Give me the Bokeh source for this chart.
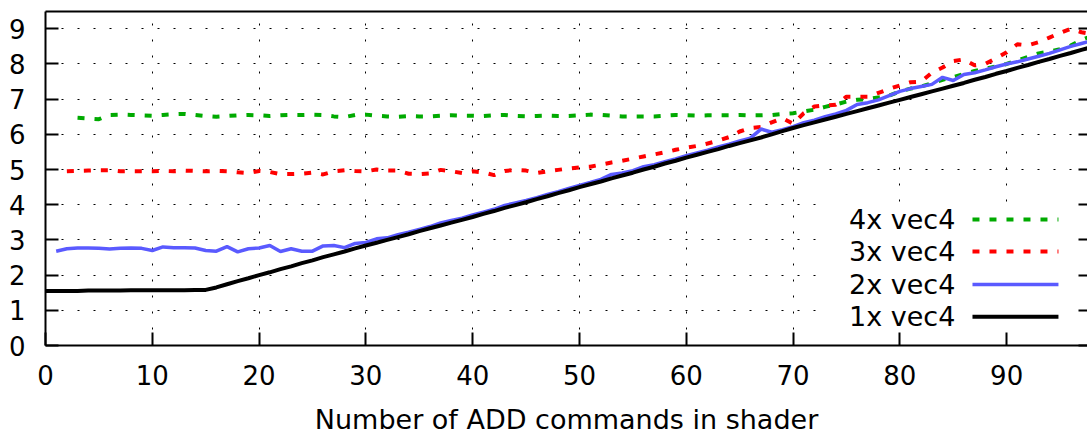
from bokeh.plotting import figure
from bokeh.models import LinearAxis, Range1d, BoxAnnotation, Label, Arrow, FixedTicker
from bokeh.embed import file_html
from bokeh.resources import INLINE

FONT = "DejaVu Sans"

# Number of ADD commands in the shader (x) against measured time (y)
x_1x = list(range(0, 99))
y_1x = [1.55, 1.55, 1.55, 1.55, 1.56, 1.56, 1.56, 1.56, 1.57, 1.57,
        1.57, 1.57, 1.57, 1.57, 1.58, 1.58, 1.65, 1.74, 1.83, 1.91,
        2.00, 2.08, 2.17, 2.25, 2.34, 2.42, 2.51, 2.59, 2.67, 2.76,
        2.84, 2.92, 3.00, 3.08, 3.16, 3.25, 3.33, 3.41, 3.49, 3.57,
        3.65, 3.74, 3.82, 3.91, 3.99, 4.07, 4.16, 4.24, 4.33, 4.41,
        4.50, 4.58, 4.66, 4.75, 4.83, 4.91, 5.00, 5.08, 5.17, 5.25,
        5.34, 5.42, 5.50, 5.58, 5.67, 5.75, 5.83, 5.91, 6.00, 6.09,
        6.18, 6.26, 6.34, 6.42, 6.50, 6.58, 6.66, 6.74, 6.82, 6.90,
        6.98, 7.06, 7.14, 7.22, 7.30, 7.38, 7.46, 7.55, 7.63, 7.72,
        7.80, 7.89, 7.97, 8.06, 8.14, 8.23, 8.31, 8.40, 8.48]

x_2x = list(range(1, 99))
y_2x = [2.68, 2.75, 2.77, 2.77, 2.76, 2.74, 2.76, 2.77, 2.76,
        2.70, 2.80, 2.78, 2.78, 2.77, 2.70, 2.68, 2.81, 2.66, 2.75,
        2.77, 2.84, 2.67, 2.75, 2.68, 2.68, 2.83, 2.84, 2.78, 2.90,
        2.93, 3.03, 3.06, 3.15, 3.22, 3.30, 3.38, 3.48, 3.55, 3.62,
        3.71, 3.79, 3.87, 3.98, 4.05, 4.12, 4.20, 4.29, 4.37, 4.46,
        4.55, 4.63, 4.72, 4.86, 4.90, 4.97, 5.08, 5.14, 5.22, 5.30,
        5.39, 5.47, 5.55, 5.64, 5.72, 5.81, 5.89, 6.15, 6.06, 6.13,
        6.22, 6.33, 6.40, 6.50, 6.58, 6.68, 6.85, 6.90, 6.98, 7.10,
        7.22, 7.30, 7.36, 7.42, 7.62, 7.53, 7.70, 7.75, 7.83, 7.92,
        8.00, 8.06, 8.14, 8.22, 8.30, 8.40, 8.50, 8.58, 8.66]

x_3x = list(range(2, 99))
y_3x = [4.95, 4.96, 4.97, 4.98, 4.98, 4.95, 4.95, 4.95,
        4.95, 4.96, 4.95, 4.97, 4.96, 4.95, 4.96, 4.95, 4.92, 4.90,
        4.96, 4.93, 4.87, 4.87, 4.88, 4.91, 4.86, 4.95, 4.98, 4.96,
        4.95, 5.00, 4.97, 4.97, 4.88, 4.87, 4.89, 4.99, 4.95, 4.90,
        4.95, 4.92, 4.84, 4.96, 4.99, 4.97, 4.90, 4.95, 4.99, 5.03,
        5.06, 5.08, 5.14, 5.20, 5.25, 5.31, 5.37, 5.43, 5.49, 5.56,
        5.62, 5.67, 5.74, 5.82, 5.92, 6.08, 6.18, 6.21, 6.34, 6.46,
        6.30, 6.60, 6.79, 6.82, 6.84, 7.07, 7.07, 7.07, 7.18, 7.29,
        7.39, 7.48, 7.50, 7.75, 7.90, 8.08, 8.13, 7.96, 8.00, 8.16,
        8.33, 8.56, 8.53, 8.62, 8.75, 8.88, 9.00, 8.90, 8.85]

x_4x = list(range(3, 99))
y_4x = [6.47, 6.45, 6.43, 6.55, 6.56, 6.55, 6.54,
        6.53, 6.55, 6.57, 6.58, 6.55, 6.52, 6.50, 6.52, 6.54, 6.55,
        6.54, 6.52, 6.54, 6.55, 6.55, 6.56, 6.55, 6.51, 6.49, 6.55,
        6.56, 6.53, 6.51, 6.50, 6.52, 6.51, 6.51, 6.53, 6.54, 6.53,
        6.53, 6.52, 6.54, 6.55, 6.52, 6.51, 6.52, 6.53, 6.52, 6.52,
        6.54, 6.56, 6.55, 6.53, 6.51, 6.51, 6.51, 6.51, 6.53, 6.55,
        6.54, 6.53, 6.54, 6.54, 6.54, 6.55, 6.54, 6.54, 6.55, 6.58,
        6.60, 6.65, 6.70, 6.78, 6.85, 6.93, 6.98, 7.00, 7.05, 7.10,
        7.22, 7.30, 7.36, 7.45, 7.55, 7.62, 7.72, 7.80, 7.86, 7.93,
        8.00, 8.10, 8.20, 8.30, 8.35, 8.42, 8.52, 8.68, 8.80]

x_ticks = [0, 10, 20, 30, 40, 50, 60, 70, 80, 90]
y_ticks = [0, 1, 2, 3, 4, 5, 6, 7, 8, 9]

# series in drawing order (the last one ends up on top)
series = [
    ("4x vec4", x_4x, y_4x, "#00aa00", 4, "7 10"),
    ("3x vec4", x_3x, y_3x, "#ff0000", 4, "7 10"),
    ("2x vec4", x_2x, y_2x, "#5a5aff", 3.5, "solid"),
    ("1x vec4", x_1x, y_1x, "#000000", 4, "solid"),
]

p = figure(width=1087, height=437,
           x_range=Range1d(0, 97.57), y_range=Range1d(0, 9.49),
           output_backend="svg", toolbar_location=None,
           min_border_left=45, min_border_right=0,
           min_border_top=11, min_border_bottom=92)
p.outline_line_color = None
p.background_fill_color = "white"
p.border_fill_color = "white"

for ax, ticks in ((p.xaxis[0], x_ticks), (p.yaxis[0], y_ticks)):
    ax.ticker = FixedTicker(ticks=ticks)
    ax.axis_line_width = 2
    ax.axis_line_color = "black"
    ax.major_tick_in = 13
    ax.major_tick_out = 0
    ax.major_tick_line_width = 2
    ax.minor_tick_line_color = None
    ax.major_label_text_font = FONT
    ax.major_label_text_font_size = "26px"
    ax.major_label_text_color = "black"

p.yaxis.major_label_standoff = 20
p.xaxis.major_label_standoff = 19
p.xaxis.axis_label = "Number of ADD commands in shader"
p.xaxis.axis_label_text_font = FONT
p.xaxis.axis_label_text_font_size = "27px"
p.xaxis.axis_label_text_font_style = "normal"
p.xaxis.axis_label_text_color = "black"
p.xaxis.axis_label_standoff = 16

# top border line
top = LinearAxis(ticker=FixedTicker(ticks=[]), axis_line_width=2,
                 major_tick_in=0, major_tick_out=0,
                 minor_tick_line_color=None, major_label_standoff=0)
p.add_layout(top, "above")

# mirrored y ticks on the right edge, without labels
right = LinearAxis(ticker=FixedTicker(ticks=y_ticks), axis_line_color=None,
                   major_tick_in=9, major_tick_out=0, major_tick_line_width=2,
                   minor_tick_line_color=None, major_label_standoff=0,
                   major_label_overrides={t: "" for t in y_ticks})
p.add_layout(right, "right")

for g, ticks in ((p.xgrid[0], x_ticks), (p.ygrid[0], y_ticks)):
    g.ticker = FixedTicker(ticks=ticks)
    g.grid_line_color = "black"
    g.grid_line_width = 1
    g.grid_line_dash = "2 14"

for name, xs, ys, color, width, dash in series:
    p.line(xs, ys, line_color=color, line_width=width, line_dash=dash)

# key box, drawn over the grid
LEGEND_BOX = dict(left=73.2, right=96.4, bottom=0.4, top=4.05)
LEGEND_TEXT_X = 85.2
LEGEND_LINE_X = (86.8, 94.85)
LEGEND_ROWS_Y = [3.58, 2.67, 1.73, 0.82]

p.add_layout(BoxAnnotation(fill_color="white", fill_alpha=1.0,
                           line_alpha=0, **LEGEND_BOX))
for (name, xs, ys, color, width, dash), ry in zip(series, LEGEND_ROWS_Y):
    p.add_layout(Label(x=LEGEND_TEXT_X, y=ry, text=name,
                       text_align="right", text_baseline="middle",
                       text_font=FONT, text_font_size="27px",
                       text_color="black"))
    p.add_layout(Arrow(end=None, x_start=LEGEND_LINE_X[0], y_start=ry,
                       x_end=LEGEND_LINE_X[1], y_end=ry,
                       line_color=color, line_width=width, line_dash=dash))

open("out.html", "w").write(file_html(p, INLINE))
